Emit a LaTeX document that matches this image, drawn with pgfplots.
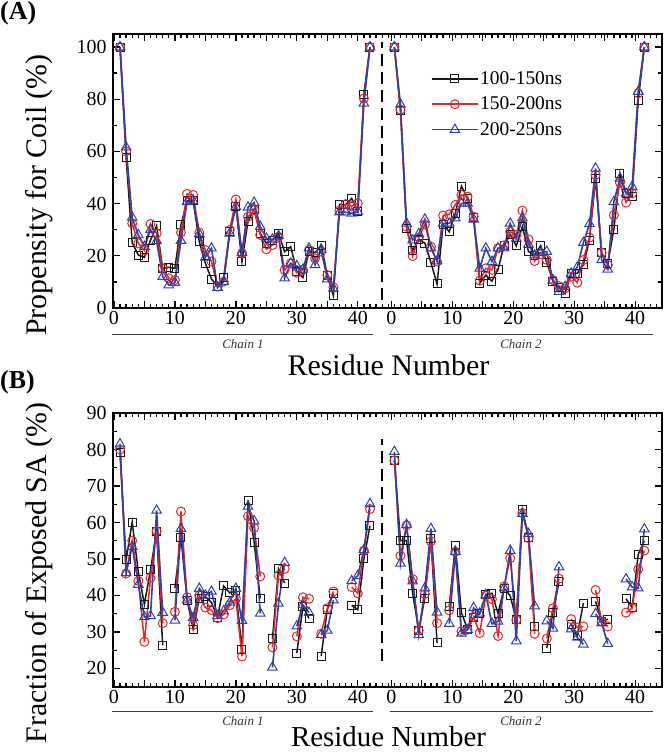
\documentclass[border=0pt]{standalone}
\usepackage{fontspec}
\setmainfont{Liberation Serif}
\usepackage{pgfplots}
\pgfplotsset{compat=1.18}
\usepackage{pgfplotstable}

\definecolor{cblack}{RGB}{25,25,25}
\definecolor{cred}{RGB}{228,40,40}
\definecolor{cblue}{RGB}{48,64,165}

% Panel A: propensity for coil; chain 2 residues plotted at 45+i
\pgfplotstableread{
x k r b
1 100 100 100
2 57.5 60 61.6
3 25 32.4 34.7
4 20.3 24.8 28
5 19.4 22 23.5
6 26 32.2 30
7 31.5 28.6 25.7
8 15.2 15.2 12
9 15.6 11.4 8.8
10 15.2 10.7 9.7
11 32 29 25.8
12 41 43.7 40.7
13 41 43.3 41
14 25.4 28.9 28.4
15 17.1 22.2 19.4
16 11.1 17.8 22.9
17 8.2 8.2 7.8
18 11.7 10.1 10.1
19 29.5 29.9 28.6
20 39 41.6 38.8
21 17.8 21 21.2
22 33.3 35 38.6
23 37.8 37.5 40.4
24 28.6 28 31.2
25 24.8 22.5 26.7
26 26 24.1 26.3
27 28.6 27.3 27.6
28 21.6 14.6 11.4
29 23.5 17.1 17.1
30 14 13.5 16.1
31 11.7 14.6 14.8
32 21.6 22.2 22.9
33 21.2 19 16.5
34 24.1 21.6 22.5
35 12.6 12.6 11.1
36 4.7 7.9 7.5
37 39.7 37.3 36.7
38 39.5 39.8 36.7
39 42 39 36.3
40 36.9 40.1 36.9
41 82 80.3 78.4
42 100 100 100
44 nan nan nan
46 100 100 100
47 75.6 76 78
48 30.5 31.2 32.4
49 22 19.9 26
50 26.3 27 28.4
51 24.8 32 34
52 17.4 23.5 22.9
53 9.2 17.8 18
54 32 35.4 32.4
55 29.2 35.9 32.4
56 36.3 39.5 34.4
57 46.7 43.3 40.1
58 42 42.7 40.1
59 34.7 35 34
60 9.5 10.5 15.2
61 12.6 15.2 22.9
62 10.3 14.6 17.8
63 14.8 22.9 22.9
64 24.1 24 22.9
65 28 29.2 32.4
66 23.8 28 26.7
67 31.2 37.3 34.4
68 21.6 26.3 24.4
69 20.3 18 20.3
70 23.9 20.6 21.2
71 17.4 18.4 21.6
72 10.3 10.7 10.7
73 7.9 8.4 6.3
74 5.6 7.5 8.2
75 13.3 12 13.3
76 13.3 9.7 15.6
77 16.5 18.4 25
78 26 27 32.2
79 49.7 51 53.5
80 21.2 21.2 18.4
81 17.1 16.5 14.8
82 30.1 35.6 40.7
83 51.6 48 49.7
84 44 40.4 43.9
85 42.7 43.9 46.5
86 79.7 82.3 82.9
87 100 100 100
}\tabA

% Panel B: fraction of exposed SA
\pgfplotstableread{
x k r b
1 79.1 80 81.5
2 49.8 46 46.2
3 60.1 55 53.4
4 46.5 44 43
5 37.6 27.3 34.1
6 47 44.8 34.4
7 57.6 57.6 63.3
8 26.3 32.4 35.3
9 nan nan nan
10 42 35.5 33.2
11 56 63 58.3
12 38.7 39.5 38.7
13 30.8 31.9 33.9
14 39.1 40 41.9
15 39.6 36.7 40
16 38.1 36 41.1
17 34 33.8 34.4
18 42.6 34.8 35.7
19 40.7 37.3 38.1
20 41.3 39.1 41.9
21 25.2 23.3 33.1
22 66.1 61.7 64.4
23 54.6 58.5 60.4
24 39.2 45.2 35.1
25 nan nan nan
26 28.1 25.8 20.3
27 47.3 45.5 37.8
28 43.4 47.3 49
29 nan nan nan
30 24.2 28.8 31.6
31 37 39.5 37.4
32 33.7 39.1 35.3
33 nan nan nan
34 23.4 29.5 29.2
35 36.2 36.5 30.4
36 40.5 41.1 38.7
37 nan nan nan
38 nan nan nan
39 37.3 42.3 44
40 36.1 40.6 45.4
41 50 52.3 52.5
42 59.1 63.7 65.1
44 nan nan nan
46 77 77 79.4
47 55 50.9 48.8
48 55 59.2 59.4
49 40.6 44.5 43.9
50 30.4 30.4 29.2
51 39.3 40.4 42
52 55.5 54.8 58.3
53 27 32.4 35.4
54 nan nan nan
55 37 35.9 32.3
56 53.7 52 52
57 35.3 30.2 29.6
58 30.8 30.6 30.6
59 34 34.1 36.6
60 35 29.7 35.1
61 40.2 40 40.2
62 40.6 39 32.3
63 35.1 28.9 32.9
64 42 42.5 42
65 39.9 50.2 52.3
66 33.3 33.3 27.5
67 63.5 62.6 62.4
68 56 55.7 56.9
69 31.6 29.5 37.1
70 nan nan nan
71 25.6 28.2 33
72 35.3 36.5 31
73 43.7 44.6 47.8
74 nan nan nan
75 32.1 33.5 30.8
76 29 31.2 28.5
77 37.9 31.5 26.6
78 nan nan nan
79 38.4 41.5 35
80 32.9 32.9 32.4
81 33.5 31.5 26.8
82 nan nan nan
83 nan nan nan
84 39.1 35.3 44.5
85 36.7 36.5 42.3
86 51.3 47.2 42
87 55 52.3 58.2
}\tabB

\pgfplotsset{
  panel/.style={
    scale only axis,
    width=549bp,
    xmin=-0.15, xmax=89.9,
    axis line style={line width=1.8bp, black},
    tick align=inside,
    xticklabel pos=lower, yticklabel pos=left,
    xtick pos=both, ytick pos=both,
    xtick={0,5,...,40,45.5,50.5,...,85.5},
    xticklabels={0,,10,,20,,30,,40,0,,10,,20,,30,,40},
    minor xtick={0,1,...,89},
    major tick length=7bp, minor tick length=4bp,
    every tick/.style={line width=1.3bp, black},
    tick label style={font=\fontsize{20}{20}\selectfont},
    /pgf/number format/assume math mode=true,
    yticklabel style={xshift=-3bp},
    unbounded coords=jump,
    clip=false,
  },
  sk/.style={cblack, line width=1.5bp, mark=square, mark size=4bp,
    mark options={fill=white, line width=1bp, solid}},
  sr/.style={cred, line width=1.5bp, mark=o, mark size=4.5bp,
    mark options={fill=white, line width=1bp, solid}},
  sb/.style={cblue, line width=1.6bp, mark=triangle, mark size=5.5bp,
    mark options={fill=white, line width=1bp, solid}},
}

\begin{document}
\begin{tikzpicture}[x=1bp,y=1bp]
\useasboundingbox (0,0) rectangle (666,755);

% ---------------- Panel A ----------------
\begin{axis}[panel,
  at={(113bp,447bp)}, anchor=south west,
  height=274bp,
  ymin=0, ymax=105,
  ytick={0,20,...,100},
  minor ytick={10,30,...,90},
  legend style={draw=none, fill=none, at={(axis cs:51.5,92)}, anchor=north west,
    font=\fontsize{19.5}{19.5}\selectfont, row sep=8bp,
    nodes={inner sep=1.5bp}},
  legend cell align=left,
  legend image code/.code={\draw[mark repeat=2,mark phase=2]
    plot coordinates {(0bp,0bp) (23bp,0bp) (46bp,0bp)};},
]
\draw[line width=1.5bp, dash pattern=on 12bp off 6bp] (axis cs:44,3) -- (axis cs:44,102);
\addplot[sk] table[x=x,y=k]{\tabA};
\addlegendentry{100-150ns}
\addplot[sr] table[x=x,y=r]{\tabA};
\addlegendentry{150-200ns}
\addplot[sb] table[x=x,y=b]{\tabA};
\addlegendentry{200-250ns}
\end{axis}

% ---------------- Panel B ----------------
\begin{axis}[panel,
  at={(113bp,68.3bp)}, anchor=south west,
  height=273.7bp,
  ymin=15, ymax=90,
  ytick={20,30,...,90},
  minor ytick={15,25,...,85},
]
\draw[line width=1.5bp, dash pattern=on 12bp off 6bp] (axis cs:44,22) -- (axis cs:44,83);
\addplot[sk] table[x=x,y=k]{\tabB};
\addplot[sr] table[x=x,y=r]{\tabB};
\addplot[sb] table[x=x,y=b]{\tabB};
\end{axis}

% chain separators and labels
\draw[line width=0.9bp, black!75] (112,421) -- (373,421);
\draw[line width=0.9bp, black!75] (390,421) -- (653,421);
\node[font=\fontsize{13}{13}\selectfont\itshape, black!80] at (243,411) {Chain 1};
\node[font=\fontsize{13}{13}\selectfont\itshape, black!80] at (521,411) {Chain 2};
\draw[line width=0.9bp, black!75] (112,43.3) -- (373,43.3);
\draw[line width=0.9bp, black!75] (390,43.3) -- (653,43.3);
\node[font=\fontsize{13}{13}\selectfont\itshape, black!80] at (243,34) {Chain 1};
\node[font=\fontsize{13}{13}\selectfont\itshape, black!80] at (521,34) {Chain 2};

\node[font=\fontsize{30}{30}\selectfont] at (388.5,390) {Residue Number};
\node[font=\fontsize{29}{29}\selectfont, inner sep=0pt, anchor=base] at (388.5,8) {Residue Number};

\node[rotate=90, font=\fontsize{30}{30}\selectfont] at (39,560) {Propensity for Coil (\%)};
\node[rotate=90, font=\fontsize{30}{30}\selectfont, inner sep=1pt] at (39,182) {Fraction of Exposed SA (\%)};

\node[font=\fontsize{26}{26}\selectfont\bfseries, inner sep=0pt, anchor=north west] at (0,754) {(A)};
\node[font=\fontsize{26}{26}\selectfont\bfseries, inner sep=0pt, anchor=north west] at (0,385) {(B)};
\end{tikzpicture}
\end{document}
